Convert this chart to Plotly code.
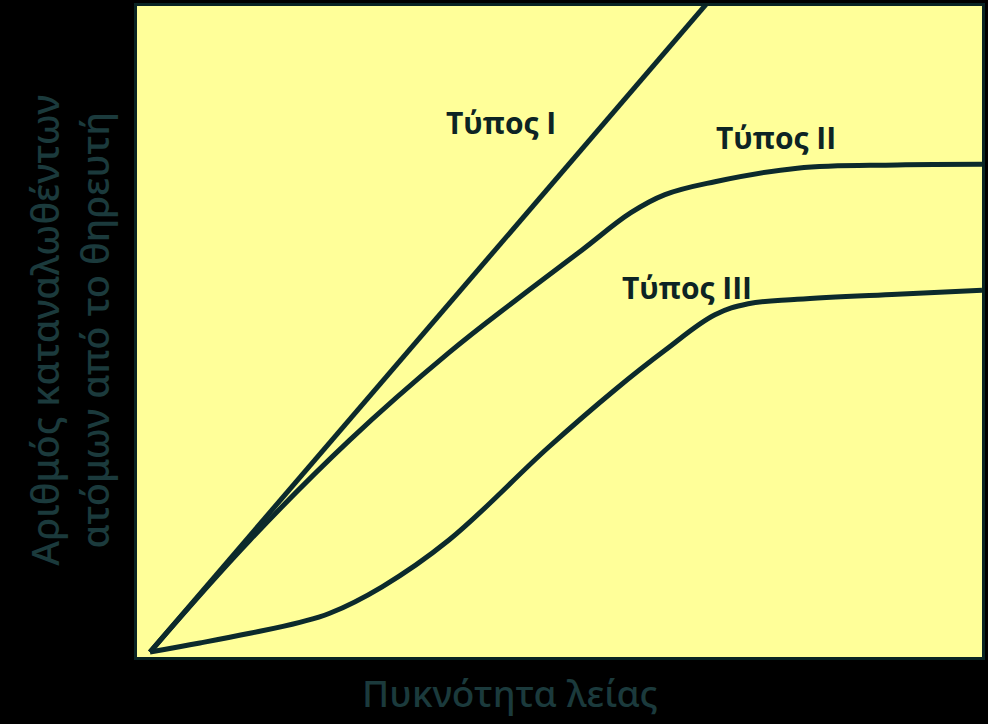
import plotly.graph_objects as go

# readings in chart units: x 0-100 across the plot, y 0-100 up the plot
type1_x = [0, 70]
type1_y = [0, 105]

type2_x = [0, 12.0, 24.0, 35.9, 44.0, 51.9, 57.8, 61.9, 67.9, 77.8, 89.8, 100]
type2_y = [0, 17.3, 32.8, 46.3, 54.5, 62.2, 68.0, 70.8, 72.8, 74.9, 75.4, 75.5]

type3_x = [0, 6.0, 12.0, 18.0, 21.6, 27.9, 35.9, 47.9, 55.9, 61.9, 67.9, 71.9, 77.8, 89.8, 100]
type3_y = [0, 1.4, 2.9, 4.6, 6.0, 10.1, 17.3, 31.7, 40.6, 46.7, 52.2, 53.9, 54.6, 55.4, 56.0]

labels = ["Τύπος I", "Τύπος II", "Τύπος III"]
label_x = [42.2, 75.3, 64.6]
label_y = [82.0, 79.7, 56.5]

line_color = "#0c2a2c"
title_color = "#1b3a3c"

fig = go.Figure()

for xs, ys, name in [(type1_x, type1_y, labels[0]),
                     (type2_x, type2_y, labels[1]),
                     (type3_x, type3_y, labels[2])]:
    fig.add_trace(go.Scatter(
        x=xs, y=ys, name=name, mode="lines",
        line=dict(color=line_color, width=5, shape="spline", smoothing=1.1),
        hoverinfo="skip",
    ))

for t, lx, ly in zip(labels, label_x, label_y):
    fig.add_annotation(x=lx, y=ly, text="<b>" + t + "</b>", showarrow=False,
                       font=dict(family="Open Sans", size=30, color="#0d2424"))

fig.add_annotation(
    text="Πυκνότητα λείας", xref="paper", yref="paper", x=0.441, y=-0.054,
    showarrow=False, yanchor="middle",
    font=dict(family="Noto Sans", size=37, color=title_color, weight=500),
)
fig.add_annotation(
    text="Αριθμός καταναλωθέντων<br>ατόμων από το θηρευτή",
    xref="paper", yref="paper", x=-0.081, y=0.502, textangle=-90,
    showarrow=False, xanchor="center", yanchor="middle",
    font=dict(family="Noto Sans", size=38, color=title_color, weight=500),
)

fig.update_layout(
    width=988, height=724,
    margin=dict(l=137, r=3, t=6, b=67),
    paper_bgcolor="#000000",
    plot_bgcolor="#ffff99",
    showlegend=False,
    xaxis=dict(range=[-1.56, 100], showgrid=False, zeroline=False,
               showticklabels=False, ticks="", showline=True, mirror=True,
               linecolor="#0a2424", linewidth=3),
    yaxis=dict(range=[-0.77, 100], showgrid=False, zeroline=False,
               showticklabels=False, ticks="", showline=True, mirror=True,
               linecolor="#0a2424", linewidth=3),
)

fig.write_html("out.html", config={"displayModeBar": False},
               post_script="document.body.style.margin='0';")
